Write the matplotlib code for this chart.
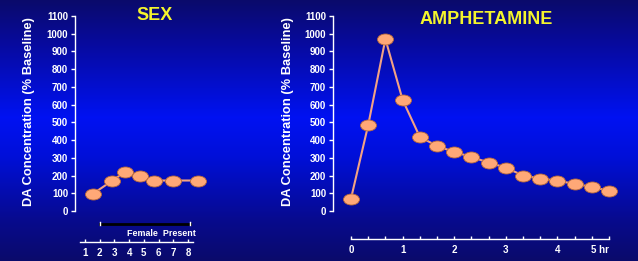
import numpy as np
import matplotlib
matplotlib.use("Agg")
import matplotlib.pyplot as plt
from matplotlib.path import Path
from matplotlib.markers import MarkerStyle
from matplotlib.transforms import Affine2D

plt.rcParams['font.family'] = ['Liberation Sans', 'DejaVu Sans']
plt.rcParams['font.weight'] = 'bold'

# ---- data ----
sex_x = [1.54, 2.83, 3.72, 4.74, 5.69, 6.98, 8.68]
sex_y = [97, 170, 220, 198, 172, 172, 172]
sex_ticks = [1, 2, 3, 4, 5, 6, 7, 8]
sex_ticklabels = ['1', '2', '3', '4', '5', '6', '7', '8']

amph_x = [i / 3 for i in range(16)]
amph_y = [70, 485, 970, 627, 418, 367, 333, 305, 273, 245, 200, 183, 171, 153, 136, 113]
amph_ticks = [0, 1, 2, 3, 4, 5]
amph_ticklabels = ['0', '1', '2', '3', '4', '5 hr']
amph_minor = [i / 3 for i in range(16)]

y_ticks = list(range(0, 1101, 100))
ylabel = 'DA Concentration (% Baseline)'

W, H = 638, 261
fig = plt.figure(figsize=(W / 100, H / 100), dpi=100)

# background gradient
bg = fig.add_axes([0, 0, 1, 1], zorder=-10)
stops_pos = [0.0, 0.15, 0.45, 0.6, 0.85, 1.0]
stops_col = [(0.04, 0.04, 0.42), (0.03, 0.04, 0.60), (0.0, 0.07, 0.95),
             (0.0, 0.06, 0.85), (0.03, 0.04, 0.55), (0.04, 0.04, 0.42)]
yy = np.linspace(0, 1, 261)
grad = np.zeros((261, 2, 3))
for c in range(3):
    col = np.interp(yy, stops_pos, [s[c] for s in stops_col])
    grad[:, :, c] = col[:, None]
bg.imshow(grad, aspect='auto', extent=[0, 1, 1, 0])
bg.set_axis_off()

# elliptical marker
circ = Path.unit_circle()
ell = circ.transformed(Affine2D().scale(1.45, 1.0))
mk = MarkerStyle(ell)

line_col = '#F2A284'
mface = '#FFA877'
medge = '#B8693A'

def px_axes(left_px, right_px, y0_px, ytop_px):
    return [left_px / W, (H - y0_px) / H, (right_px - left_px) / W, (y0_px - ytop_px) / H]

def style_axes(ax, xb, outward_px, ticks, labels, minor=None):
    ax.set_facecolor('none')
    for s in ['top', 'right']:
        ax.spines[s].set_visible(False)
    ax.spines['left'].set_color('white')
    ax.spines['left'].set_linewidth(1.0)
    ax.spines['left'].set_bounds(0, 1100)
    ax.spines['bottom'].set_color('white')
    ax.spines['bottom'].set_linewidth(1.0)
    ax.spines['bottom'].set_position(('outward', outward_px * 0.72))
    ax.spines['bottom'].set_bounds(*xb)
    ax.set_yticks(y_ticks)
    ax.set_yticklabels([str(v) for v in y_ticks])
    ax.tick_params(axis='y', colors='white', labelsize=7, length=3, width=1, pad=2)
    ax.set_xticks(ticks)
    ax.set_xticklabels(labels)
    ax.tick_params(axis='x', colors='white', labelsize=7, length=2, width=1,
                   direction='in', pad=4.5)
    if minor is not None:
        ax.set_xticks(minor, minor=True)
        ax.tick_params(axis='x', which='minor', colors='white', length=2, width=1,
                       direction='in')
    for t in ax.get_xticklabels() + ax.get_yticklabels():
        t.set_fontweight('bold')

# ---- left: SEX ----
axL = fig.add_axes(px_axes(75, 210, 211, 16))
axL.set_ylim(0, 1100)
x0 = 70.3; sc = 14.71
axL.set_xlim((75 - x0) / sc, (210 - x0) / sc)
axL.plot(sex_x, sex_y, color=line_col, lw=1.5, zorder=3, clip_on=False)
axL.plot(sex_x, sex_y, ls='none', marker=mk, ms=11.5, mfc=mface, mec=medge, mew=0.6,
         zorder=4, clip_on=False)
style_axes(axL, ((80 - x0) / sc, (193 - x0) / sc), 31, sex_ticks, sex_ticklabels)

# female present bar
fb_y = (211 - 224) / 17.73 * 100
axL.plot([2.02, 8.14], [fb_y, fb_y], color='black', lw=2, clip_on=False, zorder=3)
for xe in [2.02, 8.14]:
    axL.plot([xe, xe], [fb_y - 8, fb_y + 14], color='white', lw=1, clip_on=False, zorder=4)
axL.text(8.55, (211 - 234) / 17.73 * 100, 'Female  Present', color='white',
         fontsize=6.4, fontweight='bold', ha='right', va='center', clip_on=False)

# ---- right: AMPHETAMINE ----
axR = fig.add_axes(px_axes(333, 625, 211, 16))
axR.set_ylim(0, 1100)
x0r = 351; scr = 51.6
axR.set_xlim((333 - x0r) / scr, (625 - x0r) / scr)
axR.plot(amph_x, amph_y, color=line_col, lw=1.5, zorder=3, clip_on=False)
axR.plot(amph_x, amph_y, ls='none', marker=mk, ms=11.5, mfc=mface, mec=medge, mew=0.6,
         zorder=4, clip_on=False)
style_axes(axR, (0, 5), 28, amph_ticks, amph_ticklabels, minor=amph_minor)
axR.get_xticklabels()[-1].set_horizontalalignment('right')
axR.get_xticklabels()[-1].set_x(5.03)

# y labels
fig.text(29 / W, 1 - 112 / H, ylabel, rotation=90, color='white', fontsize=9.3,
         fontweight='bold', ha='center', va='center')
fig.text(288 / W, 1 - 112 / H, ylabel, rotation=90, color='white', fontsize=9.3,
         fontweight='bold', ha='center', va='center')

# titles
fig.text(155 / W, 1 - 15 / H, 'SEX', color='#F4F42C', fontsize=13, fontweight='bold',
         ha='center', va='center')
fig.text(486 / W, 1 - 19 / H, 'AMPHETAMINE', color='#F4F42C', fontsize=13,
         fontweight='bold', ha='center', va='center')

fig.savefig('out.png', dpi=100)
